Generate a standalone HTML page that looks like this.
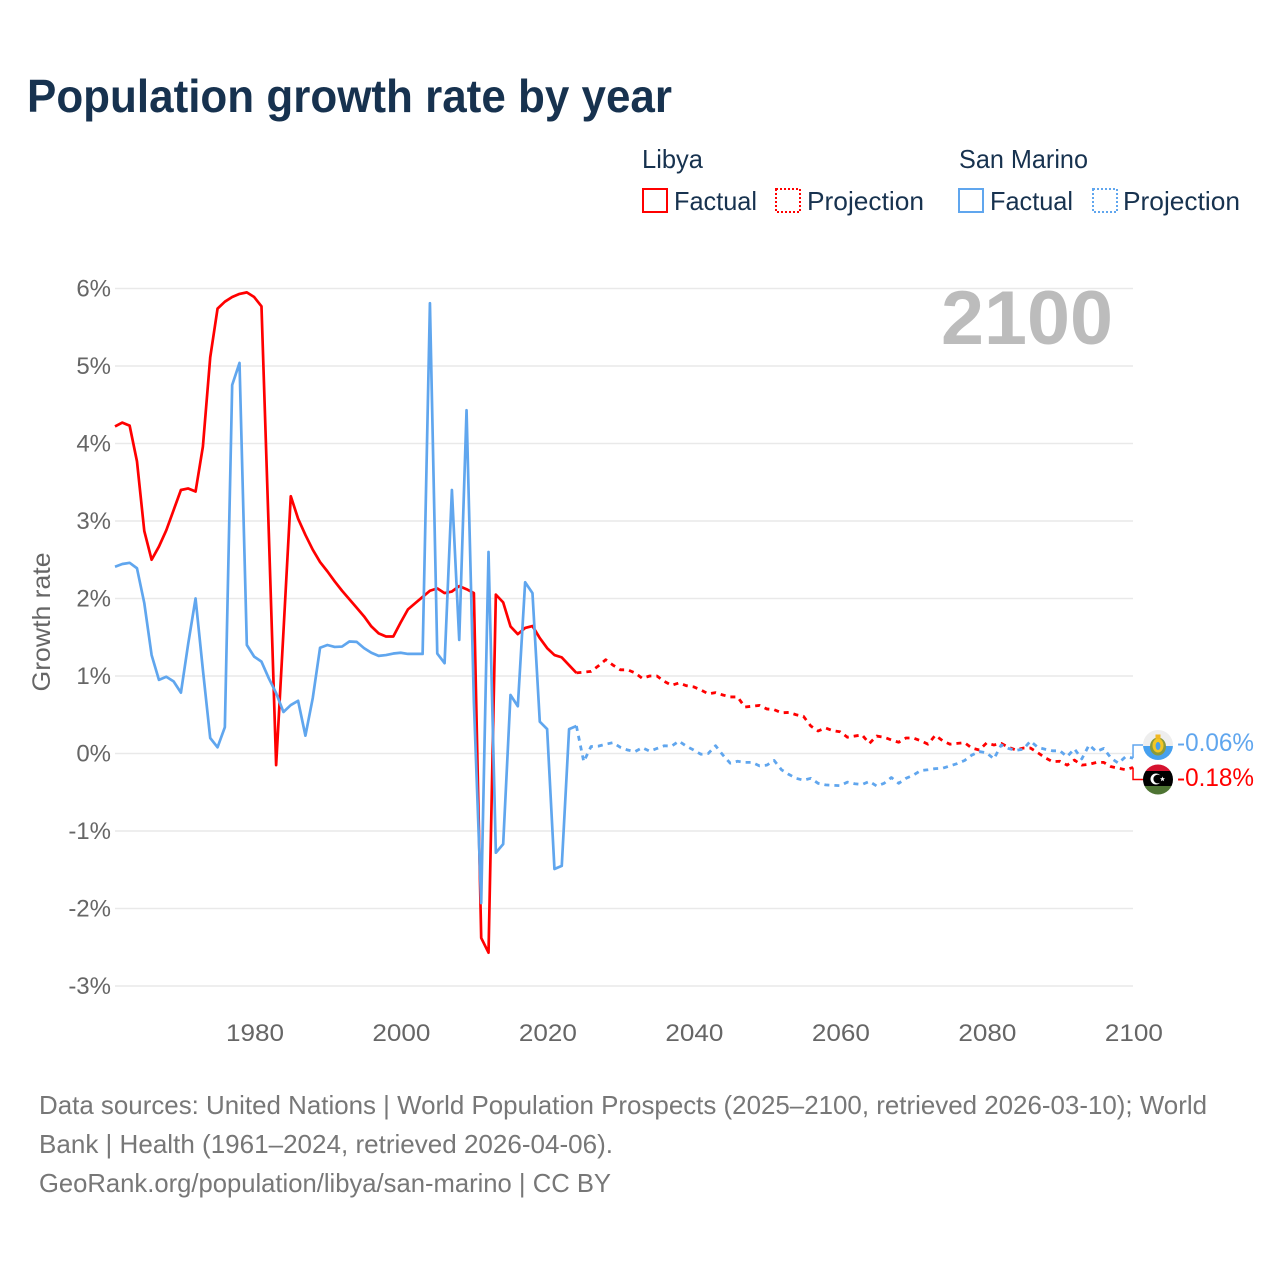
<!DOCTYPE html>
<html lang="en">
<head>
<meta charset="utf-8">
<title>Population growth rate by year</title>
<style>
html,body{margin:0;padding:0;background:#fff;}
svg{display:block;font-family:"Liberation Sans",sans-serif;}
</style>
</head>
<body>
<svg id="chart" width="1280" height="1280" viewBox="0 0 1280 1280" xmlns="http://www.w3.org/2000/svg">
  <defs>
    <clipPath id="clip-sm"><circle cx="1158" cy="745" r="15"/></clipPath>
    <clipPath id="clip-ly"><circle cx="1158" cy="779.5" r="15"/></clipPath>
  </defs>
  <text x="27" y="112" font-size="46" font-weight="700" fill="#17324f" textLength="645" lengthAdjust="spacingAndGlyphs">Population growth rate by year</text>

  <g font-size="26" fill="#17324f">
    <text x="642" y="168" textLength="61" lengthAdjust="spacingAndGlyphs">Libya</text>
    <text x="959" y="168" textLength="129" lengthAdjust="spacingAndGlyphs">San Marino</text>
    <rect x="643" y="189" width="24" height="23" fill="none" stroke="#ff0000" stroke-width="2"/>
    <text x="674" y="210" textLength="83" lengthAdjust="spacingAndGlyphs">Factual</text>
    <rect x="776" y="189" width="24" height="23" fill="none" stroke="#ff0000" stroke-width="2" stroke-dasharray="2 2"/>
    <text x="807" y="210" textLength="117" lengthAdjust="spacingAndGlyphs">Projection</text>
    <rect x="959" y="189" width="24" height="23" fill="none" stroke="#60a6ee" stroke-width="2"/>
    <text x="990" y="210" textLength="83" lengthAdjust="spacingAndGlyphs">Factual</text>
    <rect x="1093" y="189" width="24" height="23" fill="none" stroke="#60a6ee" stroke-width="2" stroke-dasharray="2 2"/>
    <text x="1123" y="210" textLength="117" lengthAdjust="spacingAndGlyphs">Projection</text>
  </g>

  <g id="grid"></g>
  <g id="y-ticks"></g>
  <g id="x-ticks"></g>
  <text transform="translate(50,622) rotate(-90)" text-anchor="middle" font-size="25" fill="#666666" textLength="139" lengthAdjust="spacingAndGlyphs">Growth rate</text>
  <text x="941" y="344" font-size="76" font-weight="700" fill="#bcbcbc" textLength="172" lengthAdjust="spacingAndGlyphs">2100</text>
  <g id="series"></g>

  <g clip-path="url(#clip-sm)">
    <rect x="1143" y="730" width="30" height="16" fill="#eeeeee"/>
    <rect x="1143" y="746" width="30" height="14" fill="#46a0ef"/>
    <ellipse cx="1158" cy="746.5" rx="8" ry="9" fill="#8a9a3c"/>
    <ellipse cx="1158" cy="745.5" rx="5.5" ry="7" fill="#f3c623"/>
    <ellipse cx="1158" cy="746" rx="2.4" ry="4" fill="#46a0ef"/>
    <rect x="1155.5" y="734.5" width="5" height="4.5" fill="#f0b823"/>
  </g>
  <g clip-path="url(#clip-ly)">
    <rect x="1143" y="764" width="30" height="7" fill="#d5122f"/>
    <rect x="1143" y="771" width="30" height="15" fill="#000000"/>
    <rect x="1143" y="786" width="30" height="9" fill="#4e7433"/>
    <circle cx="1156" cy="779" r="5.5" fill="#ffffff"/>
    <circle cx="1157.8" cy="779" r="4.4" fill="#000000"/>
    <polygon points="1162.5,776.5 1163.2,778.3 1165,778.3 1163.6,779.5 1164.1,781.3 1162.5,780.3 1160.9,781.3 1161.4,779.5 1160,778.3 1161.8,778.3" fill="#ffffff"/>
  </g>
  <text x="1177" y="751" font-size="25" fill="#60a6ee" textLength="77" lengthAdjust="spacingAndGlyphs">-0.06%</text>
  <text x="1177" y="786" font-size="25" fill="#ff0000" textLength="77" lengthAdjust="spacingAndGlyphs">-0.18%</text>

  <g font-size="26" fill="#777777">
    <text x="39" y="1114" textLength="1168" lengthAdjust="spacingAndGlyphs">Data sources: United Nations | World Population Prospects (2025–2100, retrieved 2026-03-10); World</text>
    <text x="39" y="1153" textLength="574" lengthAdjust="spacingAndGlyphs">Bank | Health (1961–2024, retrieved 2026-04-06).</text>
    <text x="39" y="1192" textLength="572" lengthAdjust="spacingAndGlyphs">GeoRank.org/population/libya/san-marino | CC BY</text>
  </g>
</svg>
<script>
const yTickValues = [6, 5, 4, 3, 2, 1, 0, -1, -2, -3];
const xTickYears = [1980, 2000, 2020, 2040, 2060, 2080, 2100];
const factualYears = [1961,1962,1963,1964,1965,1966,1967,1968,1969,1970,1971,1972,1973,1974,1975,1976,1977,1978,1979,1980,1981,1982,1983,1984,1985,1986,1987,1988,1989,1990,1991,1992,1993,1994,1995,1996,1997,1998,1999,2000,2001,2002,2003,2004,2005,2006,2007,2008,2009,2010,2011,2012,2013,2014,2015,2016,2017,2018,2019,2020,2021,2022,2023,2024];
const projectionYears = [2024,2025,2026,2027,2028,2029,2030,2031,2032,2033,2034,2035,2036,2037,2038,2039,2040,2041,2042,2043,2044,2045,2046,2047,2048,2049,2050,2051,2052,2053,2054,2055,2056,2057,2058,2059,2060,2061,2062,2063,2064,2065,2066,2067,2068,2069,2070,2071,2072,2073,2074,2075,2076,2077,2078,2079,2080,2081,2082,2083,2084,2085,2086,2087,2088,2089,2090,2091,2092,2093,2094,2095,2096,2097,2098,2099,2100];
const libyaFactual = [4.22,4.27,4.23,3.77,2.87,2.50,2.67,2.88,3.14,3.40,3.42,3.38,3.96,5.11,5.74,5.83,5.89,5.93,5.95,5.89,5.77,2.85,-0.15,1.57,3.32,3.03,2.82,2.63,2.47,2.35,2.22,2.10,1.99,1.88,1.77,1.64,1.55,1.51,1.51,1.69,1.86,1.94,2.02,2.10,2.13,2.07,2.09,2.16,2.12,2.07,-2.38,-2.57,2.05,1.95,1.64,1.54,1.62,1.645,1.49,1.36,1.27,1.24,1.14,1.04];
const libyaProjection = [1.04,1.05,1.06,1.13,1.21,1.14,1.08,1.08,1.04,0.97,1.00,1.00,0.93,0.88,0.91,0.875,0.86,0.82,0.77,0.785,0.755,0.73,0.73,0.60,0.61,0.62,0.575,0.565,0.525,0.53,0.50,0.48,0.355,0.29,0.33,0.295,0.28,0.21,0.225,0.24,0.13,0.225,0.21,0.175,0.145,0.20,0.20,0.165,0.12,0.235,0.165,0.12,0.13,0.14,0.07,0.045,0.135,0.11,0.13,0.08,0.045,0.07,0.07,0.01,-0.055,-0.105,-0.10,-0.15,-0.085,-0.15,-0.14,-0.115,-0.115,-0.17,-0.19,-0.21,-0.18];
const sanMarinoFactual = [2.41,2.445,2.46,2.39,1.94,1.27,0.95,0.99,0.93,0.785,1.42,2.00,1.08,0.20,0.08,0.34,4.755,5.04,1.40,1.25,1.185,0.97,0.78,0.535,0.625,0.68,0.23,0.715,1.365,1.40,1.375,1.38,1.445,1.44,1.36,1.30,1.26,1.27,1.29,1.30,1.285,1.285,1.285,5.81,1.29,1.165,3.40,1.465,4.43,0.66,-1.93,2.60,-1.28,-1.17,0.755,0.61,2.21,2.07,0.41,0.315,-1.49,-1.45,0.315,0.355];
const sanMarinoProjection = [0.355,-0.105,0.09,0.095,0.12,0.14,0.08,0.045,0.025,0.075,0.03,0.065,0.10,0.095,0.16,0.095,0.045,-0.01,0.00,0.10,-0.02,-0.125,-0.10,-0.115,-0.115,-0.16,-0.15,-0.09,-0.21,-0.27,-0.32,-0.345,-0.32,-0.385,-0.405,-0.41,-0.415,-0.37,-0.39,-0.40,-0.36,-0.42,-0.385,-0.31,-0.385,-0.32,-0.28,-0.22,-0.21,-0.195,-0.19,-0.16,-0.13,-0.09,-0.02,0.025,0.01,-0.07,0.11,0.065,0.04,0.055,0.16,0.08,0.055,0.035,0.035,-0.04,0.06,-0.07,0.11,0.025,0.065,-0.06,-0.125,-0.04,-0.06];

const SVG_NS = 'http://www.w3.org/2000/svg';
const xAxis = function (year) { return 115 + (year - 1961) * 7.324; };
const yAxis = function (value) { return 753.5 - value * 77.5; };

function make(tag, attrs, parent) {
  const el = document.createElementNS(SVG_NS, tag);
  Object.keys(attrs).forEach(function (k) { el.setAttribute(k, attrs[k]); });
  parent.appendChild(el);
  return el;
}

const gridGroup = document.getElementById('grid');
const yTickGroup = document.getElementById('y-ticks');
const xTickGroup = document.getElementById('x-ticks');
const seriesGroup = document.getElementById('series');

yTickValues.forEach(function (v) {
  const line = make('line', {x1: 115, x2: 1133, y1: yAxis(v), y2: yAxis(v), stroke: '#e9e9e9', 'stroke-width': 1.5}, gridGroup);
  
  
  const t = make('text', {x: 111, y: yAxis(v) + 8, 'text-anchor': 'end', 'font-size': 24, fill: '#666666'}, yTickGroup);
  
  
  t.textContent = v + '%';
});

xTickYears.forEach(function (yr) {
  const t = make('text', {x: xAxis(yr) + 0.8, y: 1041, 'text-anchor': 'middle', 'font-size': 24, fill: '#666666', textLength: 58, lengthAdjust: 'spacingAndGlyphs'}, xTickGroup);
  
  
  t.textContent = yr;
});

function pathFor(years, values) {
  return years.map(function (yr, i) {
    return (i ? 'L' : 'M') + xAxis(yr).toFixed(2) + ' ' + yAxis(values[i]).toFixed(2);
  }).join(' ');
}

const RED = '#ff0000';
const BLUE = '#60a6ee';

const libyaProjLine = make('path', {d: pathFor(projectionYears, libyaProjection), fill: 'none', stroke: RED, 'stroke-width': 2.8, 'stroke-dasharray': '5 5', 'stroke-linejoin': 'round'}, seriesGroup);



const libyaLine = make('path', {d: pathFor(factualYears, libyaFactual), fill: 'none', stroke: RED, 'stroke-width': 2.7, 'stroke-linejoin': 'round'}, seriesGroup);



const smProjLine = make('path', {d: pathFor(projectionYears, sanMarinoProjection), fill: 'none', stroke: BLUE, 'stroke-width': 2.8, 'stroke-dasharray': '5 5', 'stroke-linejoin': 'round'}, seriesGroup);



const smLine = make('path', {d: pathFor(factualYears, sanMarinoFactual), fill: 'none', stroke: BLUE, 'stroke-width': 2.7, 'stroke-linejoin': 'round'}, seriesGroup);



const endX = xAxis(2100);
const smEndY = yAxis(sanMarinoProjection[sanMarinoProjection.length - 1]);
const lyEndY = yAxis(libyaProjection[libyaProjection.length - 1]);

const smConnector = make('path', {d: 'M' + endX + ' ' + smEndY + ' V745 H1143', fill: 'none', stroke: BLUE, 'stroke-width': 1.5}, seriesGroup);



const lyConnector = make('path', {d: 'M' + endX + ' ' + lyEndY + ' V779.5 H1143', fill: 'none', stroke: RED, 'stroke-width': 1.5}, seriesGroup);


</script>
</body>
</html>
